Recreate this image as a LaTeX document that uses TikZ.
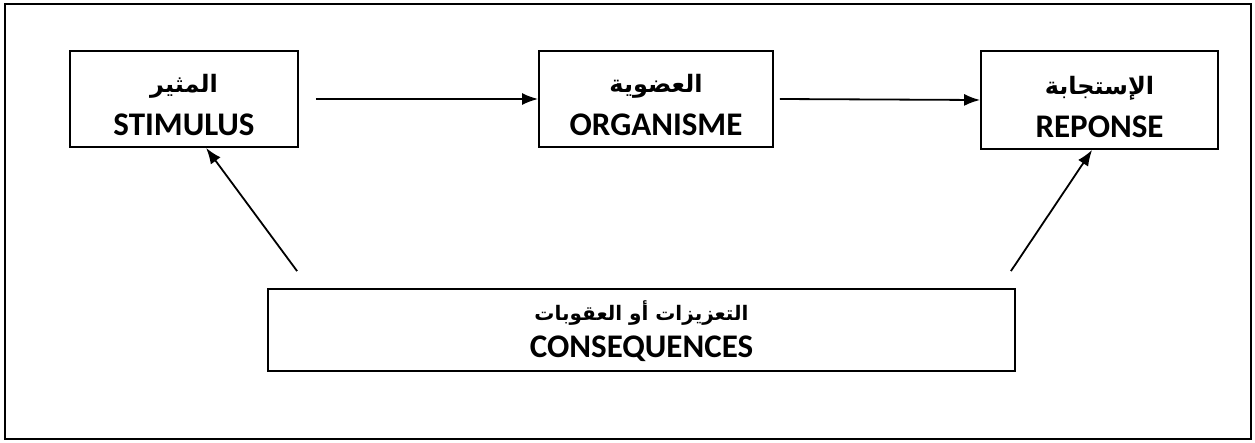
\documentclass[tikz,border=0pt]{standalone}
\usepackage{fontspec}
\setmainfont{Carlito}
\newfontfamily\arabicfont[Script=Arabic]{DejaVu Sans}
\TeXXeTstate=1
\usetikzlibrary{arrows.meta}
\newcommand{\ar}[2][24]{{\arabicfont\bfseries\fontsize{#1}{#1}\selectfont\beginR #2\endR}}
\newcommand{\la}[1]{{\bfseries\fontsize{33}{36}\selectfont #1}}
\begin{document}
\begin{tikzpicture}[x=1pt,y=-1pt,
  box/.style={draw, line width=1.8pt, inner sep=0pt},
  txt/.style={inner sep=0pt, align=center},
  arr/.style={line width=1.8pt, -{Latex[length=16pt,width=12pt]}}]
\useasboundingbox (0,0) rectangle (1255,442);
\draw[line width=2.4pt] (5,4) rectangle (1251,439);
\node[box, minimum width=228pt, minimum height=96pt] (stim) at (184,99) {};
\node[box, minimum width=234pt, minimum height=96pt] (org) at (656,99) {};
\node[box, minimum width=237pt, minimum height=98pt] (rep) at (1099.5,100) {};
\node[box, minimum width=747pt, minimum height=82pt] (cons) at (641.5,330) {};
\node[txt] (stimtxt) at ([yshift=-6pt]stim.center) {\ar{المثير}\\[15pt]\la{STIMULUS}};
\node[txt] (orgtxt) at ([yshift=-6pt]org.center) {\ar{العضوية}\\[15pt]\la{ORGANISME}};
\node[txt] (reptxt) at ([yshift=-7pt]rep.center) {\ar{الإستجابة}\\[15pt]\la{REPONSE}};
\node[txt] (constxt) at ([yshift=-1pt]cons.center) {\ar[20]{التعزيزات أو العقوبات}\\[9pt]\la{CONSEQUENCES}};
\draw[arr] ([xshift=17pt]stim.east) -- (org.west);
\draw[arr] ([xshift=6pt]org.east) -- (rep.west);
\draw[arr] ([shift={(30,-17)}]cons.north west) -- ([xshift=137pt]stim.south west);
\draw[arr] ([shift={(-5,-17)}]cons.north east) -- ([xshift=112pt]rep.south west);
\end{tikzpicture}
\end{document}
